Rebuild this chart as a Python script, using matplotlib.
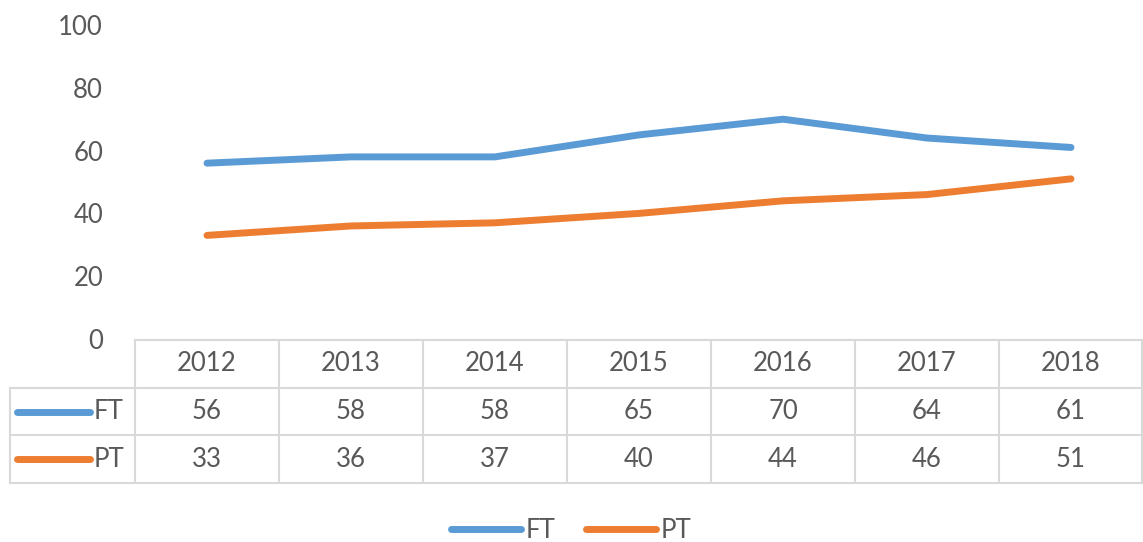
import matplotlib.pyplot as plt
from matplotlib.lines import Line2D

years = ['2012', '2013', '2014', '2015', '2016', '2017', '2018']
ft = [56, 58, 58, 65, 70, 64, 61]
pt = [33, 36, 37, 40, 44, 46, 51]
series = [('FT', ft, '#5B9BD5'), ('PT', pt, '#ED7D31')]
yticks = [0, 20, 40, 60, 80, 100]

plt.rcParams['font.family'] = ['Lato', 'DejaVu Sans']
txt_color = '#595959'
grid_color = '#D9D9D9'
fs = 18.5
W, H = 1143, 542

fig = plt.figure(figsize=(W / 100, H / 100), dpi=100)

# main line axes
ax = fig.add_axes([135 / W, (H - 339) / H, 1008 / W, 314 / H])
x = range(len(years))
for name, vals, col in series:
    ax.plot(x, vals, color=col, lw=5, solid_capstyle='round', label=name)
ax.set_xlim(-0.5, len(years) - 0.5)
ax.set_ylim(0, 100)
ax.set_yticks(yticks)
ax.set_xticks([])
ax.tick_params(axis='y', length=0, pad=23, labelsize=fs, labelcolor=txt_color)
for s in ax.spines.values():
    s.set_visible(False)

# data table below
left_w = 125 / 144
tab = fig.add_axes([10 / W, (H - 483) / H, 1133 / W, 143 / H])
tab.set_xlim(-0.5 - left_w, len(years) - 0.5)
tab.set_ylim(0, 3)
tab.axis('off')
lk = dict(color=grid_color, lw=1.5, clip_on=False)
x0, x1 = -0.5 - left_w, len(years) - 0.5 - 0.005
tab.plot([-0.5, x1], [3, 3], **lk)
for yy in (2, 1, 0):
    tab.plot([x0, x1], [yy, yy], **lk)
tab.plot([x0, x0], [0, 2], **lk)
for i in range(len(years) + 1):
    xx = min(i - 0.5, x1)
    tab.plot([xx, xx], [0, 3], **lk)
for i, yr in enumerate(years):
    tab.text(i, 2.5, yr, ha='center', va='center', fontsize=fs, color=txt_color)
for r, (name, vals, col) in enumerate(series):
    yy = 1.5 - r
    tab.plot([-1.32, -0.815], [yy, yy], color=col, lw=5, solid_capstyle='round')
    tab.text(-0.785, yy, name, ha='left', va='center', fontsize=fs, color=txt_color)
    for i, v in enumerate(vals):
        tab.text(i, yy, str(v), ha='center', va='center', fontsize=fs, color=txt_color)

handles = [Line2D([], [], color=c, lw=5, solid_capstyle='round') for _, _, c in series]
fig.legend(handles, [n for n, _, _ in series], loc='center', bbox_to_anchor=(0.5, 12 / H),
           ncol=2, frameon=False, handlelength=2.7, handletextpad=0.2, columnspacing=1.2,
           fontsize=fs, labelcolor=txt_color)

fig.savefig('out.png', dpi=100)
